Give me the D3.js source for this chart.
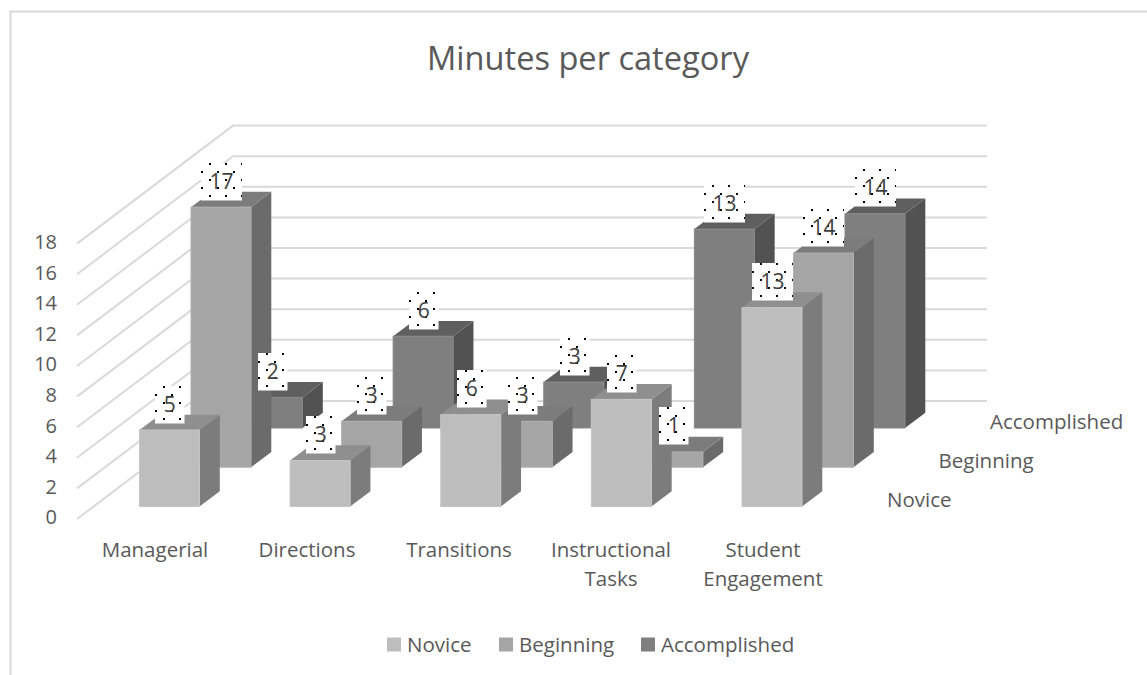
<!DOCTYPE html>
<html><head><meta charset="utf-8">
<script src="https://cdnjs.cloudflare.com/ajax/libs/d3/7.8.5/d3.min.js"></script>
<style>html,body{margin:0;padding:0;background:#fff}svg{display:block}text{font-family:"Open Sans",sans-serif}</style>
</head><body><svg id="c" width="1147" height="675"></svg>
<script>
const categories = ["Managerial","Directions","Transitions","Instructional Tasks","Student Engagement"];
const seriesNames = ["Novice","Beginning","Accomplished"];
const novice = [5,3,6,7,13];
const beginning = [17,3,3,1,14];
const accomplished = [2,6,3,13,14];
const yTicks = [0,2,4,6,8,10,12,14,16,18];
const seriesValues = {Novice:novice,Beginning:beginning,Accomplished:accomplished};
const faces = {
  Novice:{front:"#bdbdbd",side:"#7c7c7c",top:"#8f8f8f",edge:"#c6c6c6"},
  Beginning:{front:"#a5a5a5",side:"#6b6b6b",top:"#7c7c7c",edge:"#b0b0b0"},
  Accomplished:{front:"#7f7f7f",side:"#525252",top:"#5f5f5f",edge:"#8a8a8a"}
};
const svg = d3.select("#c");
const txt = "#595959", grid = "#d9d9d9";
const x = d3.scaleBand().domain(categories).range([139.5,802]).paddingInner(0.6016).paddingOuter(0);
const xLabel = d3.scalePoint().domain(categories).range([155,763]);
const y = d3.scaleLinear().domain([0,18]).range([0,-275.4]);
const depthX = d3.scalePoint().domain(seriesNames).range([0,103]);
const baseY = d3.scalePoint().domain(seriesNames).range([506.5,428]);
const barDx = 20.3, barDy = -15.3;

// frame
svg.append("path").attr("d","M10.5,675V11.5H1147").attr("fill","none").attr("stroke",grid).attr("stroke-width",2);
// title
svg.append("text").attr("x",588).attr("y",70).attr("text-anchor","middle").attr("font-size",32.6).attr("fill",txt).text("Minutes per category");

// walls
const wall = svg.append("g").attr("fill","none").attr("stroke",grid).attr("stroke-width",2);
wall.selectAll("path").data(yTicks).join("path")
  .attr("d",v=>`M77,${519+y(v)}L233,${401+y(v)}H987`);

// y axis
const yAxis = svg.append("g").attr("transform","translate(57,517.5)")
  .call(d3.axisLeft(y).tickValues(yTicks).tickSize(0).tickPadding(0));
yAxis.select(".domain").remove();
yAxis.selectAll("text").attr("font-size",20).attr("fill",txt).attr("font-family",'"Open Sans",sans-serif');

// bars, back to front
const bars = [];
seriesNames.slice().reverse().forEach(s=>categories.forEach((c,i)=>bars.push({s,c,v:seriesValues[s][i]})));
const gb = svg.append("g");
const W = x.bandwidth();
bars.forEach(d=>{
  const l = x(d.c)+depthX(d.s), b = baseY(d.s), t = b+y(d.v), f = faces[d.s];
  const g = gb.append("g");
  g.append("path").attr("d",`M${l+W},${t}L${l+W+barDx},${t+barDy}V${b+barDy}L${l+W},${b}Z`).attr("fill",f.side);
  g.append("path").attr("d",`M${l},${t}L${l+barDx},${t+barDy}H${l+W+barDx}L${l+W},${t}Z`).attr("fill",f.top);
  g.append("rect").attr("x",l).attr("y",t).attr("width",W).attr("height",b-t).attr("fill",f.front).attr("stroke",f.edge).attr("stroke-width",1);
});

// dotted label background
const defs = svg.append("defs");
const pat = defs.append("pattern").attr("id","dots").attr("patternUnits","userSpaceOnUse").attr("width",16).attr("height",16);
pat.append("rect").attr("width",16).attr("height",16).attr("fill","#fff");
pat.append("rect").attr("x",8).attr("y",0).attr("width",2).attr("height",2).attr("fill","#000");
pat.append("rect").attr("x",0).attr("y",8).attr("width",2).attr("height",2).attr("fill","#000");

const gl = svg.append("g");
bars.forEach(d=>{
  const cx = x(d.c)+depthX(d.s)+W/2, t = baseY(d.s)+y(d.v);
  const w = d.v>=10?41:29.5, h = 37.5;
  const g = gl.append("g").attr("transform",`translate(${Math.round(cx-w/2+0.5)},${Math.round(t-7-h)})`);
  g.append("rect").attr("width",w).attr("height",h).attr("fill","url(#dots)");
  g.append("text").attr("x",w/2).attr("y",h/2+7.5).attr("text-anchor","middle").attr("font-size",21).attr("fill","#404040").text(d.v);
});

// category labels
const lines = c=>{const i=c.indexOf(" ");return i<0?[c]:[c.slice(0,i),c.slice(i+1)];};
const gc = svg.append("g").attr("text-anchor","middle").attr("font-size",20.5).attr("fill",txt);
categories.forEach(c=>{
  lines(c).forEach((ln,i)=>gc.append("text").attr("x",xLabel(c)).attr("y",557+i*29).text(ln));
});

// depth labels
seriesNames.forEach(s=>{
  svg.append("text").attr("x",887+depthX(s)).attr("y",baseY(s)+0.5).attr("font-size",20.5).attr("fill",txt).text(s);
});

// legend
const legendX = d3.scaleOrdinal().domain(seriesNames).range([387,499,641]);
seriesNames.forEach(s=>{
  svg.append("rect").attr("x",legendX(s)).attr("y",637.5).attr("width",14).attr("height",14).attr("fill",faces[s].front);
  svg.append("text").attr("x",legendX(s)+20).attr("y",652).attr("font-size",20.5).attr("fill",txt).text(s);
});
</script></body></html>
